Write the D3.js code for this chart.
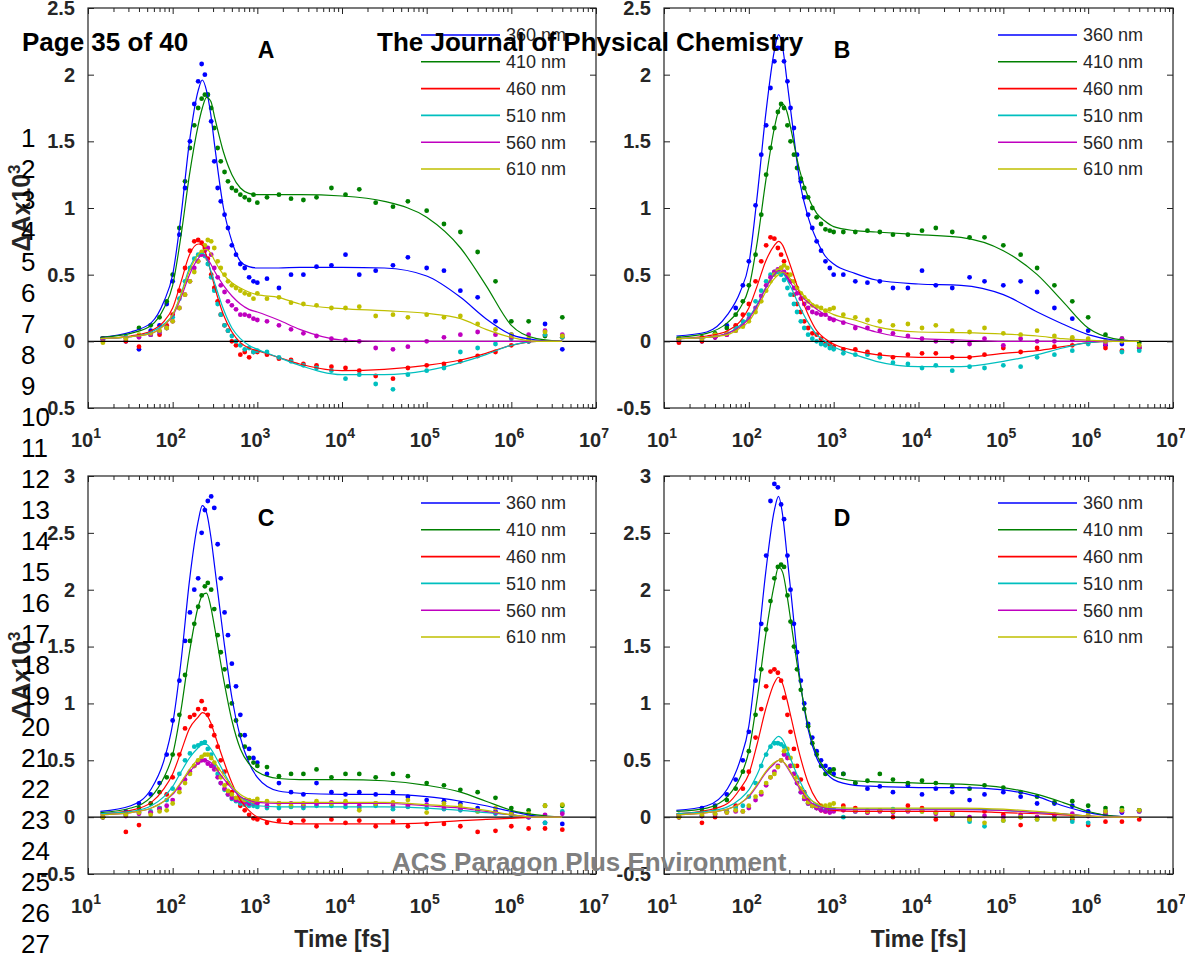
<!DOCTYPE html>
<html><head><meta charset="utf-8">
<script src="https://cdn.jsdelivr.net/npm/d3@7"></script>
<style>body{margin:0;background:#fff}svg{display:block}</style>
</head><body>
<svg id="chart" width="1185" height="955"></svg>
<script>
// ---------- data ----------
const wavelengths = ["360 nm","410 nm","460 nm","510 nm","560 nm","610 nm"];
const seriesColors = ["#0000ff","#008000","#ff0000","#00bfbf","#bf00bf","#bfbf00"];
const panelNames = ["A","B","C","D"];
const xTickExponents = [1,2,3,4,5,6,7];
const yTicksAB = [-0.5,0,0.5,1,1.5,2,2.5];
const yTicksCD = [-0.5,0,0.5,1,1.5,2,2.5,3];

// time grid of the fitted curves (fs)
const fitTime = [14,32,56,79,100,126,158,200,224,251,282,316,398,501,631,794,1000,1778,3162,1e4,31623,1e5,251189,501187,1e6,1995262,3981072];
// delay times of the measured points (fs)
const dotTime = [15,28,40,55,70,85,100,120,140,160,180,200,
  220,240,260,285,310,340,370,410,450,500,560,630,
  710,800,900,1000,1300,1800,2500,3500,5000,7500,1.1e4,1.6e4,
  2.5e4,4e4,6e4,1e5,1.6e5,2.5e5,4e5,6.5e5,1e6,1.6e6,2.5e6,4e6];

// Panel A fits
const fitA360 = [0.03,0.07,0.14,0.3,0.5,0.95,1.5,1.88,1.96,1.88,1.7,1.45,1.0,0.75,0.6,0.56,0.55,0.55,0.555,0.555,0.55,0.49,0.33,0.17,0.05,0.01,0.0];
const fitA410 = [0.03,0.06,0.12,0.25,0.42,0.8,1.25,1.62,1.75,1.83,1.8,1.67,1.42,1.25,1.15,1.11,1.1,1.1,1.1,1.09,1.05,0.93,0.7,0.42,0.12,0.02,0.0];
const fitA460 = [0.02,0.04,0.08,0.15,0.25,0.45,0.65,0.73,0.72,0.64,0.52,0.4,0.2,0.07,-0.01,-0.05,-0.07,-0.12,-0.17,-0.22,-0.21,-0.18,-0.14,-0.09,-0.03,0.0,0.0];
const fitA510 = [0.02,0.035,0.07,0.13,0.2,0.36,0.55,0.65,0.66,0.62,0.53,0.43,0.24,0.1,0.02,-0.03,-0.06,-0.12,-0.18,-0.25,-0.25,-0.22,-0.16,-0.1,-0.03,0.0,0.0];
const fitA560 = [0.02,0.035,0.06,0.12,0.19,0.33,0.5,0.62,0.65,0.63,0.58,0.52,0.42,0.34,0.28,0.24,0.22,0.16,0.09,0.01,0.0,0.0,0.0,0.0,0.0,0.0,0.0];
const fitA610 = [0.02,0.035,0.06,0.12,0.2,0.35,0.53,0.65,0.68,0.69,0.66,0.6,0.5,0.44,0.4,0.37,0.35,0.33,0.28,0.245,0.23,0.21,0.17,0.09,0.03,0.0,0.0];
// Panel A data
const dotA360 = [0.02,0.0,-0.06,0.08,0.12,0.28,0.45,0.8,1.15,1.5,1.78,1.95,
  2.08,2.0,1.85,1.65,1.35,1.15,1.05,0.95,0.85,0.72,0.65,0.58,
  0.55,0.48,0.45,0.44,0.47,0.4,0.5,0.5,0.56,0.57,0.65,0.5,
  0.53,0.57,0.63,0.55,0.53,0.38,0.33,0.15,0.05,0.0,0.13,-0.06];
const dotA410 = [0.02,0.03,0.1,0.12,0.18,0.3,0.5,0.85,1.2,1.45,1.62,1.75,
  1.82,1.85,1.85,1.75,1.6,1.45,1.35,1.27,1.2,1.15,1.13,1.1,
  1.08,1.06,1.1,1.04,1.08,1.1,1.07,1.06,1.08,1.15,1.1,1.14,
  1.04,1.01,1.05,0.98,0.88,0.82,0.67,0.45,0.15,0.15,0.04,0.18];
const dotA460 = [0.02,0.0,-0.04,0.05,0.05,0.12,0.2,0.38,0.55,0.68,0.75,0.76,
  0.74,0.7,0.62,0.5,0.4,0.3,0.2,0.12,0.08,0.0,-0.03,-0.1,
  -0.08,-0.12,-0.08,-0.08,-0.1,-0.13,-0.14,-0.17,-0.18,-0.19,-0.2,-0.22,
  -0.26,-0.28,-0.2,-0.18,-0.17,-0.15,-0.11,-0.08,-0.03,0.0,0.05,0.03];
const dotA510 = [0.01,0.03,0.04,0.05,0.07,0.1,0.18,0.32,0.45,0.55,0.62,0.65,
  0.66,0.64,0.58,0.48,0.38,0.28,0.2,0.12,0.08,0.04,0.0,-0.03,
  -0.06,-0.05,-0.08,-0.07,-0.08,-0.12,-0.15,-0.18,-0.2,-0.22,-0.28,-0.25,
  -0.32,-0.36,-0.25,-0.22,-0.2,-0.08,-0.05,-0.02,0.02,0.0,0.05,0.03];
const dotA560 = [0.01,0.02,0.03,0.05,0.07,0.1,0.15,0.25,0.35,0.45,0.55,0.6,
  0.65,0.68,0.7,0.65,0.55,0.48,0.42,0.37,0.3,0.27,0.24,0.2,
  0.2,0.19,0.17,0.16,0.15,0.12,0.09,0.06,0.04,0.02,0.01,0.0,
  -0.05,-0.06,-0.04,0.0,0.03,0.05,0.07,0.05,0.03,0.05,0.08,0.05];
const dotA610 = [-0.01,0.02,0.05,0.06,0.08,0.1,0.15,0.25,0.35,0.45,0.52,0.6,
  0.67,0.72,0.76,0.75,0.7,0.6,0.55,0.5,0.45,0.42,0.4,0.38,
  0.36,0.35,0.32,0.36,0.32,0.33,0.29,0.28,0.27,0.25,0.25,0.26,
  0.19,0.2,0.18,0.2,0.18,0.19,0.13,0.09,0.05,0.02,0.07,0.04];

// Panel B fits
const fitB360 = [0.04,0.07,0.2,0.37,0.58,1.1,1.7,2.18,2.3,2.2,1.95,1.7,1.2,0.93,0.76,0.64,0.58,0.51,0.46,0.43,0.42,0.35,0.22,0.13,0.05,0.01,0.0];
const fitB410 = [0.03,0.06,0.14,0.25,0.4,0.75,1.2,1.6,1.73,1.78,1.72,1.58,1.28,1.08,0.96,0.9,0.86,0.83,0.82,0.8,0.78,0.68,0.5,0.3,0.1,0.02,0.0];
const fitB460 = [0.02,0.04,0.08,0.15,0.25,0.42,0.6,0.72,0.75,0.72,0.64,0.55,0.36,0.2,0.08,0.02,-0.02,-0.07,-0.1,-0.12,-0.12,-0.09,-0.07,-0.04,-0.01,0.0,0.0];
const fitB510 = [0.02,0.03,0.06,0.12,0.18,0.28,0.4,0.5,0.52,0.51,0.46,0.4,0.26,0.14,0.05,0.0,-0.04,-0.1,-0.15,-0.19,-0.19,-0.15,-0.1,-0.05,-0.01,0.0,0.0];
const fitB560 = [0.02,0.03,0.06,0.11,0.17,0.27,0.4,0.5,0.53,0.52,0.48,0.43,0.35,0.29,0.24,0.2,0.17,0.12,0.07,0.02,0.01,0.0,0.0,0.0,0.0,0.0,0.0];
const fitB610 = [0.02,0.03,0.05,0.1,0.15,0.25,0.37,0.47,0.5,0.52,0.5,0.46,0.38,0.31,0.26,0.23,0.2,0.16,0.11,0.07,0.065,0.055,0.04,0.02,0.01,0.0,0.0];
// Panel B data
const dotB360 = [0.0,0.0,0.03,0.12,0.25,0.42,0.6,1.02,1.4,1.62,1.9,2.1,
  2.2,2.2,2.1,1.95,1.75,1.6,1.4,1.2,1.08,0.95,0.85,0.75,
  0.68,0.6,0.55,0.5,0.5,0.45,0.44,0.45,0.4,0.4,0.53,0.42,
  0.4,0.48,0.45,0.42,0.45,0.37,0.25,0.17,0.08,-0.03,-0.02,-0.05];
const dotB410 = [0.02,0.03,0.06,0.1,0.2,0.3,0.42,0.65,0.95,1.25,1.45,1.6,
  1.72,1.78,1.75,1.62,1.5,1.4,1.3,1.22,1.15,1.08,1.0,0.93,
  0.88,0.84,0.83,0.82,0.82,0.82,0.83,0.82,0.8,0.8,0.83,0.85,
  0.82,0.78,0.78,0.72,0.65,0.55,0.42,0.3,0.18,0.05,0.02,-0.01];
const dotB460 = [-0.01,0.0,0.03,0.05,0.12,0.2,0.28,0.45,0.6,0.72,0.78,0.77,
  0.7,0.65,0.6,0.5,0.45,0.35,0.28,0.22,0.15,0.1,0.06,0.05,
  0.02,-0.02,-0.02,-0.04,-0.06,-0.06,-0.08,-0.1,-0.12,-0.1,-0.09,-0.09,
  -0.12,-0.12,-0.1,-0.05,-0.08,-0.05,-0.04,-0.03,-0.01,-0.05,-0.07,-0.05];
const dotB510 = [0.02,0.02,0.04,0.06,0.1,0.15,0.2,0.3,0.38,0.45,0.5,0.52,
  0.52,0.5,0.46,0.4,0.35,0.28,0.22,0.15,0.1,0.05,0.02,0.0,
  -0.02,-0.03,-0.05,-0.06,-0.09,-0.1,-0.1,-0.12,-0.16,-0.17,-0.2,-0.18,
  -0.22,-0.19,-0.2,-0.18,-0.19,-0.12,-0.1,-0.07,-0.02,0.0,-0.08,-0.07];
const dotB560 = [0.01,0.02,0.03,0.05,0.08,0.12,0.17,0.25,0.34,0.42,0.48,0.52,
  0.54,0.55,0.52,0.48,0.45,0.4,0.36,0.32,0.28,0.25,0.22,0.21,
  0.2,0.2,0.17,0.16,0.14,0.1,0.1,0.08,0.06,0.04,0.02,0.0,
  0.0,-0.02,0.02,-0.03,0.02,0.0,0.0,0.01,0.0,-0.02,0.02,-0.04];
const dotB610 = [0.02,0.02,0.05,0.06,0.08,0.11,0.15,0.22,0.3,0.38,0.45,0.5,
  0.53,0.55,0.57,0.55,0.5,0.45,0.4,0.36,0.33,0.3,0.27,0.26,
  0.25,0.23,0.24,0.25,0.2,0.18,0.16,0.15,0.12,0.13,0.1,0.12,
  0.08,0.07,0.1,0.06,0.05,0.08,0.04,0.03,0.02,0.0,0.0,-0.03];

// Panel C fits
const fitC360 = [0.05,0.1,0.25,0.5,0.82,1.38,2.08,2.6,2.74,2.68,2.47,2.18,1.58,1.05,0.7,0.48,0.35,0.23,0.21,0.2,0.2,0.18,0.14,0.1,0.05,0.01,0.0];
const fitC410 = [0.04,0.08,0.18,0.35,0.55,0.95,1.45,1.85,1.95,1.97,1.85,1.65,1.22,0.85,0.6,0.47,0.4,0.34,0.33,0.33,0.32,0.28,0.22,0.14,0.06,0.02,0.0];
const fitC460 = [0.03,0.06,0.13,0.25,0.38,0.58,0.78,0.88,0.92,0.9,0.83,0.72,0.5,0.3,0.15,0.06,0.0,-0.05,-0.06,-0.06,-0.06,-0.05,-0.03,-0.02,-0.01,0.0,0.0];
const fitC510 = [0.03,0.05,0.1,0.18,0.27,0.4,0.52,0.61,0.64,0.64,0.6,0.54,0.4,0.27,0.18,0.13,0.1,0.09,0.09,0.09,0.09,0.08,0.06,0.04,0.02,0.0,0.0];
const fitC560 = [0.02,0.04,0.08,0.14,0.2,0.3,0.4,0.47,0.5,0.5,0.48,0.44,0.34,0.25,0.18,0.15,0.13,0.12,0.12,0.12,0.12,0.1,0.08,0.05,0.02,0.0,0.0];
const fitC610 = [0.02,0.04,0.08,0.14,0.21,0.31,0.42,0.51,0.54,0.55,0.53,0.48,0.37,0.27,0.2,0.16,0.14,0.13,0.13,0.13,0.13,0.11,0.09,0.06,0.02,0.0,0.0];
// Panel C data
const dotC360 = [0.0,0.05,0.12,0.2,0.3,0.55,0.85,1.2,1.55,1.8,2.0,2.1,
  2.5,2.7,2.78,2.82,2.72,2.4,2.1,1.8,1.6,1.35,1.15,0.9,
  0.72,0.6,0.52,0.48,0.38,0.3,0.22,0.2,0.3,0.22,0.2,0.22,
  0.2,0.22,0.18,0.15,0.14,0.12,0.08,0.05,0.03,0.0,-0.05,-0.06];
const dotC410 = [0.0,0.03,0.08,0.12,0.22,0.35,0.55,0.9,1.25,1.55,1.7,1.85,
  1.95,2.03,2.06,2.0,1.83,1.6,1.45,1.3,1.15,1.0,0.85,0.72,
  0.62,0.52,0.48,0.45,0.44,0.36,0.38,0.38,0.42,0.35,0.38,0.38,
  0.35,0.38,0.36,0.3,0.28,0.24,0.22,0.17,0.08,0.06,0.1,0.1];
const dotC460 = [0.0,-0.13,-0.07,0.04,0.08,0.2,0.35,0.55,0.78,0.88,0.9,0.95,
  1.02,0.95,0.9,0.8,0.72,0.62,0.5,0.4,0.3,0.22,0.15,0.1,
  0.06,0.02,-0.01,-0.02,-0.05,-0.03,-0.05,-0.03,-0.08,-0.02,-0.05,-0.03,
  -0.08,-0.04,-0.08,-0.06,-0.06,-0.08,-0.13,-0.12,-0.08,-0.1,-0.1,-0.11];
const dotC510 = [0.0,0.02,0.04,0.05,0.08,0.15,0.25,0.38,0.5,0.56,0.62,0.63,
  0.65,0.66,0.6,0.55,0.45,0.38,0.3,0.24,0.2,0.16,0.14,0.12,
  0.11,0.1,0.1,0.09,0.08,0.08,0.09,0.08,0.1,0.1,0.09,0.08,
  0.1,0.07,0.09,0.08,0.07,0.06,0.05,0.03,0.02,0.0,-0.05,0.05];
const dotC560 = [0.0,0.01,0.03,0.04,0.07,0.1,0.15,0.25,0.33,0.4,0.45,0.48,
  0.5,0.5,0.47,0.45,0.42,0.35,0.3,0.25,0.2,0.17,0.15,0.14,
  0.13,0.12,0.12,0.12,0.1,0.12,0.12,0.1,0.12,0.13,0.12,0.1,
  0.12,0.1,0.1,0.11,0.08,0.07,0.06,0.04,0.03,0.0,0.02,0.03];
const dotC610 = [0.0,0.02,0.04,0.02,0.05,0.06,0.12,0.22,0.3,0.38,0.45,0.5,
  0.53,0.55,0.55,0.52,0.48,0.42,0.35,0.28,0.23,0.2,0.17,0.16,
  0.15,0.15,0.14,0.16,0.14,0.12,0.1,0.12,0.14,0.12,0.14,0.06,
  0.12,0.13,0.15,0.04,0.12,0.1,0.05,0.08,0.04,0.03,0.1,0.11];

// Panel D fits
const fitD360 = [0.06,0.1,0.25,0.5,0.8,1.45,2.15,2.7,2.82,2.65,2.3,1.95,1.23,0.77,0.52,0.4,0.33,0.28,0.27,0.26,0.26,0.24,0.18,0.1,0.04,0.01,0.0];
const fitD410 = [0.05,0.08,0.18,0.35,0.58,1.05,1.6,2.05,2.2,2.15,1.95,1.7,1.2,0.8,0.55,0.42,0.36,0.32,0.31,0.3,0.29,0.26,0.2,0.13,0.05,0.01,0.0];
const fitD460 = [0.03,0.06,0.12,0.25,0.38,0.65,0.95,1.18,1.23,1.17,1.03,0.87,0.55,0.3,0.15,0.08,0.06,0.05,0.05,0.05,0.05,0.04,0.03,0.02,0.01,0.0,0.0];
const fitD510 = [0.03,0.05,0.09,0.16,0.24,0.38,0.55,0.68,0.71,0.68,0.6,0.5,0.32,0.18,0.11,0.08,0.07,0.07,0.07,0.07,0.07,0.06,0.04,0.03,0.01,0.0,0.0];
const fitD560 = [0.02,0.04,0.07,0.12,0.18,0.28,0.39,0.47,0.5,0.49,0.44,0.38,0.25,0.15,0.1,0.08,0.07,0.065,0.065,0.065,0.065,0.06,0.04,0.03,0.01,0.0,0.0];
const fitD610 = [0.02,0.04,0.07,0.12,0.19,0.29,0.4,0.48,0.5,0.49,0.45,0.39,0.27,0.17,0.12,0.09,0.085,0.08,0.08,0.08,0.08,0.07,0.05,0.03,0.01,0.0,0.0];
// Panel D data
const dotD360 = [0.0,0.08,0.1,0.2,0.33,0.5,0.75,1.2,1.7,2.3,2.78,2.93,
  2.9,2.75,2.62,2.3,2.0,1.7,1.45,1.2,1.0,0.82,0.7,0.58,
  0.5,0.45,0.42,0.38,0.38,0.3,0.25,0.27,0.22,0.28,0.2,0.25,
  0.22,0.15,0.2,0.22,0.18,0.12,0.12,0.1,0.05,0.05,0.04,0.06];
const dotD410 = [0.02,0.05,0.08,0.15,0.25,0.4,0.58,0.9,1.3,1.65,1.9,2.1,
  2.2,2.22,2.2,1.95,1.72,1.5,1.3,1.12,0.95,0.8,0.65,0.55,
  0.45,0.38,0.4,0.42,0.38,0.3,0.32,0.38,0.33,0.3,0.32,0.3,
  0.27,0.25,0.28,0.26,0.22,0.18,0.13,0.14,0.1,0.08,0.08,0.06];
const dotD460 = [0.0,-0.05,0.0,0.05,0.1,0.25,0.4,0.7,0.95,1.15,1.28,1.3,
  1.27,1.2,1.05,0.9,0.75,0.6,0.45,0.33,0.22,0.15,0.1,0.08,
  0.06,0.05,0.07,0.06,0.1,0.08,0.04,0.06,0.0,0.1,0.08,-0.02,
  0.03,-0.02,0.05,0.02,-0.07,0.0,0.02,-0.02,-0.07,-0.04,-0.04,-0.02];
const dotD510 = [0.01,0.01,0.03,0.05,0.08,0.1,0.18,0.3,0.45,0.55,0.62,0.65,
  0.65,0.64,0.62,0.55,0.45,0.38,0.3,0.22,0.16,0.12,0.1,0.08,
  0.07,0.06,0.08,0.07,0.0,0.05,0.06,0.06,0.07,0.06,0.05,0.04,
  0.02,-0.04,-0.08,-0.03,0.0,-0.02,-0.01,-0.04,-0.05,0.02,0.06,0.05];
const dotD560 = [0.0,0.01,0.02,0.04,0.05,0.05,0.08,0.15,0.2,0.28,0.35,0.4,
  0.45,0.5,0.55,0.52,0.45,0.38,0.3,0.22,0.16,0.12,0.1,0.08,
  0.06,0.05,0.04,0.05,0.06,0.05,0.04,0.05,0.04,0.05,0.06,0.03,
  0.02,0.0,0.01,0.0,0.02,0.0,0.02,0.03,0.01,0.03,0.05,0.05];
const dotD610 = [0.0,0.02,0.03,0.04,0.06,0.05,0.1,0.18,0.22,0.3,0.35,0.38,
  0.44,0.5,0.58,0.6,0.52,0.45,0.35,0.25,0.18,0.13,0.1,0.1,
  0.1,0.1,0.11,0.12,0.08,0.06,0.05,0.06,0.05,0.06,0.05,0.04,
  0.03,-0.02,-0.05,-0.03,0.0,-0.02,-0.02,0.0,0.02,0.05,0.06,0.06];

// ---------- drawing ----------
const FONT = "Arial, 'Liberation Sans', Helvetica, sans-serif";
const TXT = "#262626";
const svg = d3.select("#chart");
svg.append("rect").attr("width",1185).attr("height",955).attr("fill","#fff");

const panels = [
  {name:panelNames[0], fits:[fitA360,fitA410,fitA460,fitA510,fitA560,fitA610], dots:[dotA360,dotA410,dotA460,dotA510,dotA560,dotA610], yTicks:yTicksAB, left:88, right:596, top:8, bottom:408, ylab:true, xlab:false},
  {name:panelNames[1], fits:[fitB360,fitB410,fitB460,fitB510,fitB560,fitB610], dots:[dotB360,dotB410,dotB460,dotB510,dotB560,dotB610], yTicks:yTicksAB, left:664, right:1173, top:8, bottom:408, ylab:false, xlab:false},
  {name:panelNames[2], fits:[fitC360,fitC410,fitC460,fitC510,fitC560,fitC610], dots:[dotC360,dotC410,dotC460,dotC510,dotC560,dotC610], yTicks:yTicksCD, left:88, right:596, top:476, bottom:874, ylab:true, xlab:true},
  {name:panelNames[3], fits:[fitD360,fitD410,fitD460,fitD510,fitD560,fitD610], dots:[dotD360,dotD410,dotD460,dotD510,dotD560,dotD610], yTicks:yTicksCD, left:664, right:1173, top:476, bottom:874, ylab:false, xlab:true}
];

const majorX = xTickExponents.map(e => Math.pow(10, e));
const minorX = [];
for (let e = 1; e < 7; e++) for (let m = 2; m <= 9; m++) minorX.push(m * Math.pow(10, e));

function styleAxis(g) {
  g.attr("font-family", FONT).attr("font-size", 20).attr("font-weight", "bold");
  g.selectAll(".tick line").attr("stroke", "#222");
  g.selectAll(".tick text").attr("fill", TXT);
  g.select(".domain").remove();
}

panels.forEach(p => {
  const yMax = d3.max(p.yTicks), yMin = d3.min(p.yTicks);
  const x = d3.scaleLog().domain([10, 1e7]).range([p.left, p.right]);
  const y = d3.scaleLinear().domain([yMin, yMax]).range([p.bottom, p.top]);
  const g = svg.append("g");

  g.append("clipPath").attr("id", "clip" + p.name).append("rect")
    .attr("x", p.left).attr("y", p.top).attr("width", p.right - p.left).attr("height", p.bottom - p.top);
  const plot = g.append("g").attr("clip-path", `url(#clip${p.name})`);

  // data points
  p.dots.forEach((arr, i) => {
    plot.append("g").selectAll("circle").data(arr).join("circle")
      .attr("cx", (d, j) => x(dotTime[j])).attr("cy", d => y(d))
      .attr("r", 2.4).attr("fill", seriesColors[i]);
  });
  // zero line
  plot.append("line").attr("x1", p.left).attr("x2", p.right)
    .attr("y1", y(0)).attr("y2", y(0)).attr("stroke", "#000").attr("stroke-width", 1.3);
  // fit curves
  const line = d3.line().x((d, j) => x(fitTime[j])).y(d => y(d)).curve(d3.curveMonotoneX);
  p.fits.forEach((arr, i) => {
    plot.append("path").attr("d", line(arr)).attr("fill", "none")
      .attr("stroke", seriesColors[i]).attr("stroke-width", 1.2);
  });

  // axes (ticks pointing inwards, on all four sides)
  g.append("g").attr("transform", `translate(0,${p.bottom})`)
    .call(d3.axisBottom(x).tickValues(majorX).tickSize(-6).tickSizeOuter(0).tickFormat(""))
    .call(styleAxis);
  g.append("g").attr("transform", `translate(0,${p.bottom})`)
    .call(d3.axisBottom(x).tickValues(minorX).tickSize(-4).tickSizeOuter(0).tickFormat(""))
    .call(styleAxis);
  g.append("g").attr("transform", `translate(0,${p.top})`)
    .call(d3.axisTop(x).tickValues(majorX).tickSize(-6).tickSizeOuter(0).tickFormat(""))
    .call(styleAxis);
  g.append("g").attr("transform", `translate(0,${p.top})`)
    .call(d3.axisTop(x).tickValues(minorX).tickSize(-4).tickSizeOuter(0).tickFormat(""))
    .call(styleAxis);
  g.append("g").attr("transform", `translate(${p.left},0)`)
    .call(d3.axisLeft(y).tickValues(p.yTicks).tickSize(-6).tickSizeOuter(0).tickPadding(13).tickFormat(d => String(d)))
    .call(styleAxis);
  g.append("g").attr("transform", `translate(${p.right},0)`)
    .call(d3.axisRight(y).tickValues(p.yTicks).tickSize(-6).tickSizeOuter(0).tickFormat(""))
    .call(styleAxis);

  // box
  g.append("rect").attr("x", p.left).attr("y", p.top)
    .attr("width", p.right - p.left).attr("height", p.bottom - p.top)
    .attr("fill", "none").attr("stroke", "#222").attr("stroke-width", 1.2);

  // x tick labels 10^n
  xTickExponents.forEach(e => {
    const t = g.append("text").attr("x", x(Math.pow(10, e)) - 2).attr("y", p.bottom + 39)
      .attr("text-anchor", "middle").attr("font-family", FONT).attr("font-weight", "bold")
      .attr("font-size", 20).attr("fill", TXT);
    t.append("tspan").text("10");
    t.append("tspan").attr("dy", -9).attr("font-size", 14).text(e);
  });

  // y label
  if (p.ylab) {
    const t = g.append("text")
      .attr("transform", `translate(30,${(p.top + p.bottom) / 2}) rotate(-90)`)
      .attr("text-anchor", "middle").attr("font-family", FONT).attr("font-weight", "bold")
      .attr("font-size", 25).attr("fill", TXT);
    t.append("tspan").text("ΔAx10");
    t.append("tspan").attr("dy", -10).attr("font-size", 17).text("3");
  }
  // x label
  if (p.xlab) {
    g.append("text").attr("x", (p.left + p.right) / 2).attr("y", p.bottom + 73)
      .attr("text-anchor", "middle").attr("font-family", FONT).attr("font-weight", "bold")
      .attr("font-size", 23).attr("fill", TXT).text("Time [fs]");
  }

  // panel letter
  g.append("text").attr("x", p.left + 178).attr("y", p.top + 50)
    .attr("text-anchor", "middle").attr("font-family", FONT).attr("font-weight", "bold")
    .attr("font-size", 23).attr("fill", "#000").text(p.name);

  // legend
  const lg = g.append("g");
  wavelengths.forEach((w, i) => {
    const ly = p.top + 27 + i * 26.8;
    lg.append("line").attr("x1", p.right - 175).attr("x2", p.right - 96)
      .attr("y1", ly).attr("y2", ly).attr("stroke", seriesColors[i]).attr("stroke-width", 1.6);
    lg.append("text").attr("x", p.right - 90).attr("y", ly).attr("dy", "0.35em")
      .attr("font-family", FONT).attr("font-size", 18).attr("fill", TXT).text(w);
  });
});

// ---------- page overlay (manuscript watermark text) ----------
const ov = svg.append("g").attr("font-family", FONT);
ov.append("text").attr("x", 22).attr("y", 51).attr("font-weight", "bold").attr("font-size", 26)
  .attr("fill", "#000").text("Page 35 of 40");
ov.append("text").attr("x", 377).attr("y", 51).attr("font-weight", "bold").attr("font-size", 26)
  .attr("fill", "#000").text("The Journal of Physical Chemistry");
ov.append("text").attr("x", 392).attr("y", 871).attr("font-weight", "bold").attr("font-size", 26)
  .attr("fill", "#7f7f7f").text("ACS Paragon Plus Environment");
const lineNumbers = d3.range(1, 28);
const lineY = d3.scaleLinear().domain([1, 27]).range([146.5, 952.5]);
ov.selectAll("text.ln").data(lineNumbers).join("text").attr("class", "ln")
  .attr("x", 21).attr("y", d => lineY(d)).attr("font-size", 26).attr("fill", "#000").text(d => d);
</script>
</body></html>
